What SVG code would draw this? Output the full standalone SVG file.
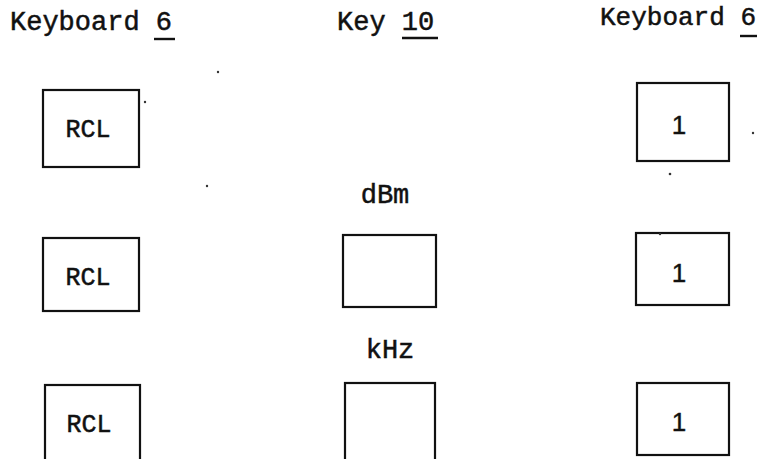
<svg xmlns="http://www.w3.org/2000/svg" width="767" height="459" viewBox="0 0 767 459">
<style>
.t{font-family:"Liberation Mono","Courier New",monospace;fill:#111;stroke:#111;stroke-width:0.5}
.h{font-size:27px}
.box{fill:#fff;stroke:#111;stroke-width:2.2}
.ul{stroke:#111;stroke-width:2.4}
.rcl{font-size:25px;text-anchor:middle}
.one{font-family:"Liberation Sans",Arial,sans-serif;font-size:26px;fill:#111;stroke:#111;stroke-width:0.4;text-anchor:middle}
.lbl{font-size:27px;text-anchor:middle}
.speck{fill:#333}
</style>
<rect width="767" height="459" fill="#fff"/>
<g id="headers">
<text class="t h" x="10" y="30">Keyboard 6</text>
<line class="ul" x1="154" y1="39" x2="175" y2="39"/>
<text class="t h" x="337" y="30">Key 10</text>
<line class="ul" x1="402" y1="38" x2="438" y2="38"/>
<text class="t" style="font-size:26px" x="600" y="25">Keyboard 6</text>
<line class="ul" x1="740" y1="36" x2="757" y2="36"/>
</g>
<g id="rcl1"><rect class="box" x="43" y="90" width="96" height="77"/><text class="t rcl" x="88" y="137">RCL</text></g>
<g id="rcl2"><rect class="box" x="43" y="238" width="96" height="73"/><text class="t rcl" x="88" y="285">RCL</text></g>
<g id="rcl3"><rect class="box" x="45" y="385" width="95" height="80"/><text class="t rcl" x="89" y="432">RCL</text></g>
<g id="dbm"><text class="t lbl" x="385" y="203">dBm</text><rect class="box" x="343" y="235" width="93" height="72"/></g>
<g id="khz"><text class="t lbl" x="390" y="358">kHz</text><rect class="box" x="345" y="383" width="90" height="82"/></g>
<g id="one1"><rect class="box" x="637" y="83" width="92" height="78"/><text class="one" x="679" y="134">1</text></g>
<g id="one2"><rect class="box" x="636" y="233" width="93" height="72"/><text class="one" x="679" y="282">1</text></g>
<g id="one3"><rect class="box" x="637" y="383" width="92" height="72"/><text class="one" x="679" y="431">1</text></g>
<g id="connectors"/>
<g id="specks">
<circle class="speck" cx="145" cy="102" r="1.2"/>
<circle class="speck" cx="218" cy="72" r="1.2"/>
<circle class="speck" cx="207" cy="186" r="1.2"/>
<circle class="speck" cx="670" cy="174" r="1.3"/>
<circle class="speck" cx="753" cy="133" r="1.2"/>
<circle class="speck" cx="660" cy="234" r="1.2"/>
</g>
</svg>
